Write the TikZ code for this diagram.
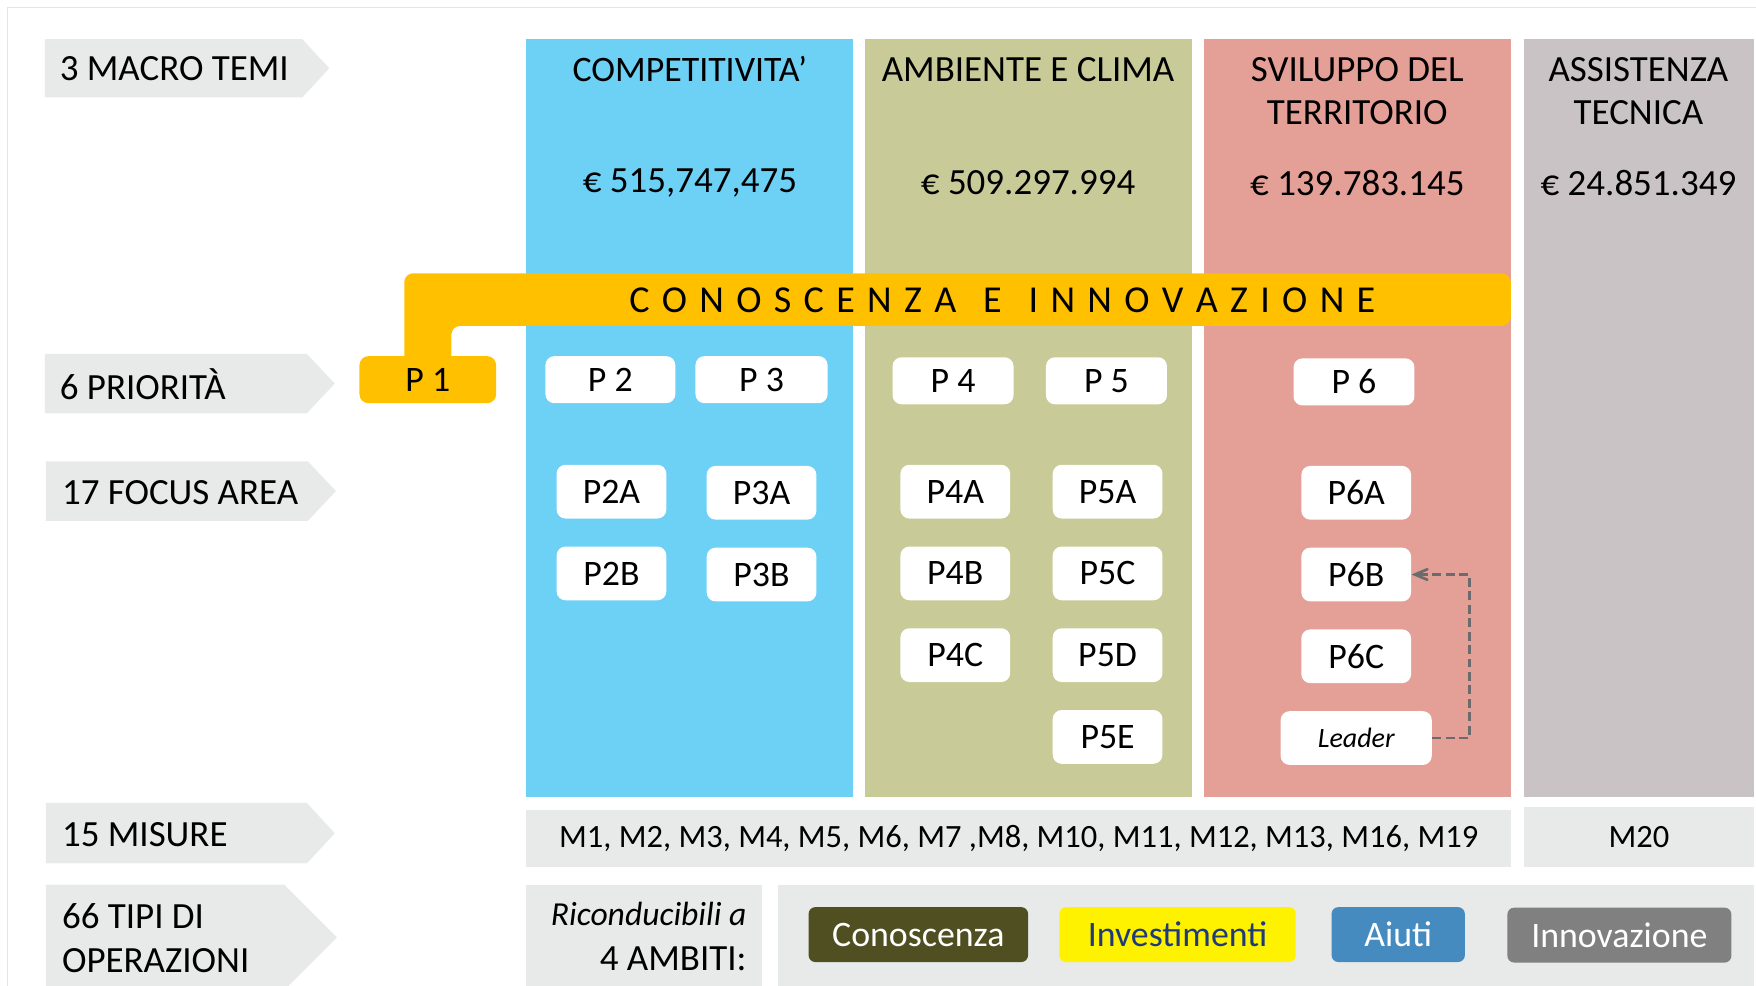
\documentclass[tikz,border=0pt]{standalone}
\usepackage{fontspec}
\setmainfont{Carlito}
\usetikzlibrary{arrows, positioning}
\definecolor{compblue}{RGB}{109,208,245}
\definecolor{ambgreen}{RGB}{200,203,152}
\definecolor{terrpink}{RGB}{228,160,150}
\definecolor{assgray}{RGB}{201,195,198}
\definecolor{labelgray}{RGB}{232,234,234}
\definecolor{innoyellow}{RGB}{255,192,0}
\definecolor{conolive}{RGB}{79,79,34}
\definecolor{invblue}{RGB}{31,58,122}
\definecolor{aiutiblue}{RGB}{70,139,191}
\definecolor{innogray}{RGB}{128,128,128}
\definecolor{dashgray}{RGB}{107,107,110}
\tikzstyle{rowlabel} = [anchor=west, align=left, inner sep=0pt, font=\fontsize{16.5}{19.5}\selectfont]
\tikzstyle{coltitle} = [align=center, inner sep=0pt, font=\fontsize{16.5}{19.5}\selectfont]
\tikzstyle{prio} = [rectangle, rounded corners=4pt, fill=white, minimum width=54pt, minimum height=21pt, inner sep=0pt, font=\fontsize{16}{18}\selectfont]
\tikzstyle{fareabox} = [rectangle, rounded corners=4pt, fill=white, minimum width=49pt, minimum height=24pt, inner sep=0pt, font=\fontsize{16}{18}\selectfont]
\tikzstyle{band} = [rectangle, fill=labelgray, inner sep=0pt]
\tikzstyle{ambito} = [rectangle, rounded corners=3pt, minimum height=24.5pt, inner sep=0pt, font=\fontsize{16}{18}\selectfont]
\tikzstyle{link} = [dashgray, line width=1.2pt, dash pattern=on 4pt off 2pt, ->, >=angle 45]

\begin{document}
\begin{tikzpicture}[x=0.5pt, y=-0.5pt, node distance=36.5pt]
    \useasboundingbox (0,0) rectangle (1568,880);
    \draw[black!10] (7,880) -- (7,7) -- (1568,7);

    % Row labels
    \fill[labelgray] (40,35) -- (270,35) -- (294,61) -- (270,87) -- (40,87) -- cycle;
    \fill[labelgray] (40,316) -- (274,316) -- (299,342.5) -- (274,369) -- (40,369) -- cycle;
    \fill[labelgray] (41,412) -- (275,412) -- (300,438.5) -- (275,465) -- (41,465) -- cycle;
    \fill[labelgray] (41,717) -- (274,717) -- (299,744) -- (274,771) -- (41,771) -- cycle;
    \fill[labelgray] (41,790) -- (254,790) -- (301,837) -- (254,884) -- (41,884) -- cycle;
    \node[rowlabel] (temi) at (53,61) {3 MACRO TEMI};
    \node[rowlabel] (prior) at (53,343) {6 PRIORITÀ};
    \node[rowlabel] (farea) at (55,440) {17 FOCUS AREA};
    \node[rowlabel] (mis) at (55,745) {15 MISURE};
    \node[rowlabel] (tipi) at (55,837.5) {66 TIPI DI\\OPERAZIONI};

    % Macro themes
    \fill[compblue] (470,35) rectangle (762,712);
    \fill[ambgreen] (772,35) rectangle (1064,712);
    \fill[terrpink] (1075,35) rectangle (1349,712);
    \fill[assgray] (1361,35) rectangle (1566,712);
    \node[coltitle, font=\fontsize{16}{19.5}\selectfont] (comp) at (616,62) {COMPETITIVITA’};
    \node[coltitle] (amb) at (918,62) {AMBIENTE E CLIMA};
    \node[coltitle] (terr) at (1212,81.5) {SVILUPPO DEL\\TERRITORIO};
    \node[coltitle] (ass) at (1463,81.5) {ASSISTENZA\\TECNICA};
    \node[coltitle] (compeur) at (616,163) {€ 515,747,475};
    \node[coltitle] (ambeur) at (918,163) {€ 509.297.994};
    \node[coltitle] (terreur) at (1212,163) {€ 139.783.145};
    \node[coltitle] (asseur) at (1463,163) {€ 24.851.349};

    % Conoscenza e innovazione
    \fill[innoyellow, rounded corners=4pt] (361,330) -- (361,244) -- (1349,244) -- (1349,291) -- (403,291) -- (403,330) -- cycle;
    \node[inner sep=0pt, font=\fontsize{17}{20}\selectfont] (conoinno) at (895,268) {\spaceskip=5.5pt C O N O S C E N Z A\hspace{12pt}E\hspace{12pt}I N N O V A Z I O N E};

    % Priorities
    \node[prio, fill=innoyellow, minimum width=61pt] (p1) at (382,339) {P 1};
    \node[prio, minimum width=58pt] (p2) at (545,339) {P 2};
    \node[prio, minimum width=59pt] (p3) at (680,339) {P 3};
    \node[prio] (p4) at (851,340) {P 4};
    \node[prio] (p5) at (988,340) {P 5};
    \node[prio] (p6) at (1209,341) {P 6};

    % Focus areas
    \node[fareabox] (p2a) at (546,439) {P2A};
    \node[fareabox, below of=p2a] (p2b) {P2B};
    \node[fareabox] (p3a) at (680,440) {P3A};
    \node[fareabox, below of=p3a] (p3b) {P3B};
    \node[fareabox] (p4a) at (853,439) {P4A};
    \node[fareabox, below of=p4a] (p4b) {P4B};
    \node[fareabox, below of=p4b] (p4c) {P4C};
    \node[fareabox] (p5a) at (989,439) {P5A};
    \node[fareabox, below of=p5a] (p5c) {P5C};
    \node[fareabox, below of=p5c] (p5d) {P5D};
    \node[fareabox, below of=p5d] (p5e) {P5E};
    \node[fareabox] (p6a) at (1211,440) {P6A};
    \node[fareabox, below of=p6a] (p6b) {P6B};
    \node[fareabox, below of=p6b] (p6c) {P6C};
    \node[fareabox, below of=p6c, minimum width=67.5pt, font=\fontsize{12.5}{15}\selectfont\itshape] (leader) {Leader};
    \draw[link] (leader.east) -- ++(16.5pt,0) |- (p6b.east);

    % Measures
    \node[band, minimum width=439.5pt, minimum height=25.5pt, font=\fontsize{14.5}{17}\selectfont] (misure) at (909.5,748.5) {M1, M2, M3, M4, M5, M6, M7 ,M8, M10, M11, M12, M13, M16, M19};
    \node[band, minimum width=102.5pt, minimum height=26.5pt, font=\fontsize{14.5}{17}\selectfont] (m20) at (1463.5,747.5) {M20};

    % Types of operations
    \fill[labelgray] (470,790) rectangle (680,884);
    \node[anchor=east, align=right, inner sep=0pt, font=\fontsize{16.5}{20}\selectfont] (ricond) at (667,836) {{\fontsize{15}{20}\selectfont\itshape Riconducibili a}\\4 AMBITI:};
    \node[band, minimum width=435.5pt, minimum height=47pt] (ambiti) at (1130.5,837) {};
    \node[ambito, fill=conolive, text=white, minimum width=98pt] (cono) at (820,834.5) {Conoscenza};
    \node[ambito, fill=yellow, text=invblue, minimum width=105.5pt] (inv) at (1051.5,834.5) {Investimenti};
    \node[ambito, fill=aiutiblue, text=white, minimum width=59.5pt] (aiuti) at (1248.5,834.5) {Aiuti};
    \node[ambito, fill=innogray, text=white, minimum width=100pt] (innov) at (1446,835) {Innovazione};
\end{tikzpicture}
\end{document}
